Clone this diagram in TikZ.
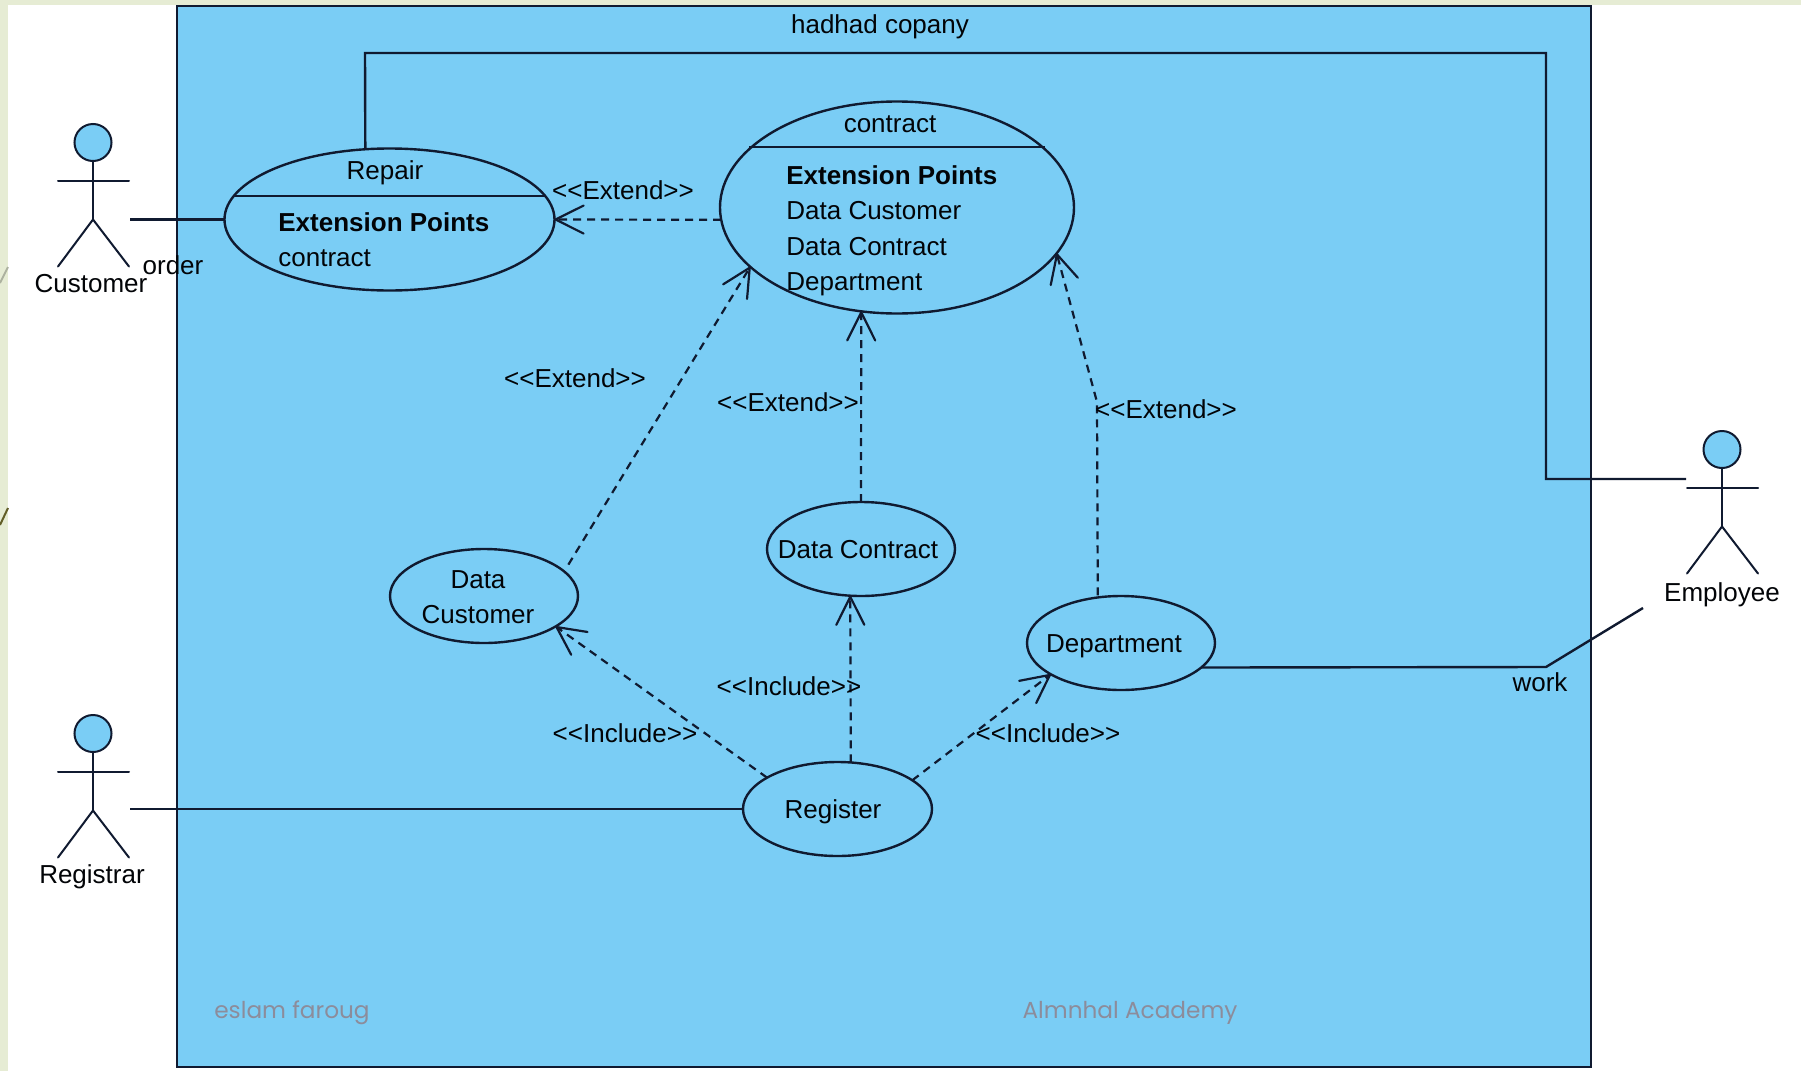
\documentclass[tikz,border=0pt]{standalone}
\usepackage{fontspec}
\usetikzlibrary{arrows.meta}
\usetikzlibrary{shapes.geometric}
\newfontfamily\umlfont{Liberation Sans}
\newfontfamily\markfont{Poppins}
\definecolor{umlblue}{RGB}{122,205,245}
\definecolor{umlline}{RGB}{16,26,48}
\definecolor{slidegreen}{RGB}{230,236,212}
\definecolor{markgray}{RGB}{140,140,155}
\tikzset{
    usecase/.style={draw=umlline, line width=1.2pt, fill=umlblue, ellipse, inner sep=0pt, outer sep=0pt},
    stickfigure/.style={draw=umlline, line width=1pt, line cap=round},
    assoc/.style={draw=umlline, line width=1.2pt},
    dashedarrow/.style={draw=umlline, line width=1.1pt, dash pattern=on 4pt off 3pt, -{Straight Barb[length=14pt,width=14pt,line width=1.1pt,round]}},
    umllabel/.style={font=\umlfont\fontsize{13}{15}\selectfont, text=black!85!umlline, inner sep=0pt, text height=9.5pt, text depth=0pt},
    pointtitle/.style={umllabel, font=\umlfont\bfseries\fontsize{13}{15}\selectfont, anchor=west},
    pointitem/.style={umllabel, anchor=west},
    watermark/.style={font=\markfont\fontsize{11.6}{13}\selectfont, text=markgray, inner sep=0pt}
}

\begin{document}
\begin{tikzpicture}[x=0.5pt, y=-0.5pt]
    \useasboundingbox (0,0) rectangle (1801,1071);
    \fill[slidegreen] (0,0) rectangle (1801,1071);
    \fill[white] (8,5) rectangle (1801,1071);
    \draw[draw=black!25!slidegreen, line width=1pt] (8,267) -- (0,283);
    \draw[draw=olive!60!black, line width=1pt] (8,508) -- (0,525);

    \node[draw=umlline, line width=1.3pt, fill=umlblue, minimum width=707pt, minimum height=530.5pt, inner sep=0pt, outer sep=0pt] (system) at (884,536.5) {};
    \node[umllabel] (systemname) at (880,24) {hadhad copany};

    \foreach \actorname/\x/\y/\labelx/\labely/\actortext in {customer/93/142.5/91/282.5/Customer, registrar/93/733.5/92/873.5/Registrar, employee/1722/449.5/1722/591.5/Employee} {
        \node[circle, draw=umlline, line width=1pt, fill=umlblue, minimum size=18.5pt, inner sep=0pt, outer sep=0pt] (\actorname head) at (\x,\y) {};
        \draw[stickfigure] (\actorname head.south) -- (\x,\y+77);
        \draw[stickfigure] (\x-35,\y+38) -- (\x+36,\y+38);
        \draw[stickfigure] (\x-35,\y+124) -- (\x,\y+77) -- (\x+36,\y+124);
        \node[umllabel] (\actorname) at (\labelx,\labely) {\actortext};
    }

    \node[usecase, minimum width=165pt, minimum height=71pt] (repair) at (389.5,219.5) {};
    \draw[assoc] (233,196) -- (546,196);
    \node[umllabel] (repairname) at (385,170) {Repair};
    \node[pointtitle] (repairpoints) at (278,222) {Extension Points};
    \node[pointitem] (repairitem) at (278,257) {contract};

    \node[usecase, minimum width=177pt, minimum height=106pt] (contract) at (897,207.5) {};
    \draw[assoc] (749,147) -- (1045,147);
    \node[umllabel] (contractname) at (890,123) {contract};
    \node[pointtitle] (contractpoints) at (786,175) {Extension Points};
    \node[pointitem] (contractitema) at (786,210) {Data Customer};
    \node[pointitem] (contractitemb) at (786,246) {Data Contract};
    \node[pointitem] (contractitemc) at (786,281) {Department};

    \node[usecase, minimum width=94pt, minimum height=47pt] (datacustomer) at (484,596) {};
    \node[umllabel] (datacustomera) at (478,579) {Data};
    \node[umllabel] (datacustomerb) at (478,614) {Customer};
    \node[usecase, minimum width=94pt, minimum height=47pt] (datacontract) at (861,549) {};
    \node[umllabel] (datacontractname) at (858,549) {Data Contract};
    \node[usecase, minimum width=94pt, minimum height=47pt] (department) at (1121,643) {};
    \node[umllabel] (departmentname) at (1114,643) {Department};
    \node[usecase, minimum width=94.5pt, minimum height=47pt] (register) at (837.5,809) {};
    \node[umllabel] (registername) at (833,809) {Register};

    \coordinate (customerhand) at (130,219.5);
    \coordinate (registrarhand) at (130,809);
    \coordinate (repairtop) at (365,53);
    \coordinate (employeebend) at (1546,53);
    \coordinate (employeeknee) at (1546,479);
    \coordinate (employeehand) at (1686,479);
    \coordinate (workbend) at (1546,667);
    \coordinate (workend) at (1643,608);
    \coordinate (departmentbend) at (1097,402);

    \draw[assoc] (customerhand) -- (repair.west);
    \draw[assoc] (registrarhand) -- (register.west);
    \draw[assoc] (repair.109.2) -- (repairtop) -- (employeebend) -- (employeeknee) -- (employeehand);
    \draw[assoc] (department.343.5) -- (workbend) -- (workend);

    \draw[dashedarrow] (contract.184.3) -- (repair.east);
    \draw[dashedarrow, shorten <=4pt] (datacustomer.17.6) -- (contract.202);
    \draw[dashedarrow] (datacontract.north) -- (contract.251);
    \draw[dashedarrow, shorten <=1pt] (department.117.9) -- (departmentbend) -- (contract.344);
    \draw[dashedarrow] (register.156) -- (datacustomer.337);
    \draw[dashedarrow] (register.74.5) -- (datacontract.257);
    \draw[dashedarrow] (register.21) -- (department.204);

    \node[umllabel] (orderlabel) at (173,265) {order};
    \node[umllabel] (worklabel) at (1540,682) {work};
    \node[umllabel] (extenda) at (623,190) {<<Extend>>};
    \node[umllabel] (extendb) at (575,378) {<<Extend>>};
    \node[umllabel] (extendc) at (788,402) {<<Extend>>};
    \node[umllabel] (extendd) at (1166,409) {<<Extend>>};
    \node[umllabel] (includea) at (625,733) {<<Include>>};
    \node[umllabel] (includeb) at (789,686) {<<Include>>};
    \node[umllabel] (includec) at (1048,733) {<<Include>>};

    \node[watermark] (markleft) at (292,1013) {eslam faroug};
    \node[watermark] (markright) at (1130,1013) {Almnhal Academy};
\end{tikzpicture}
\end{document}
